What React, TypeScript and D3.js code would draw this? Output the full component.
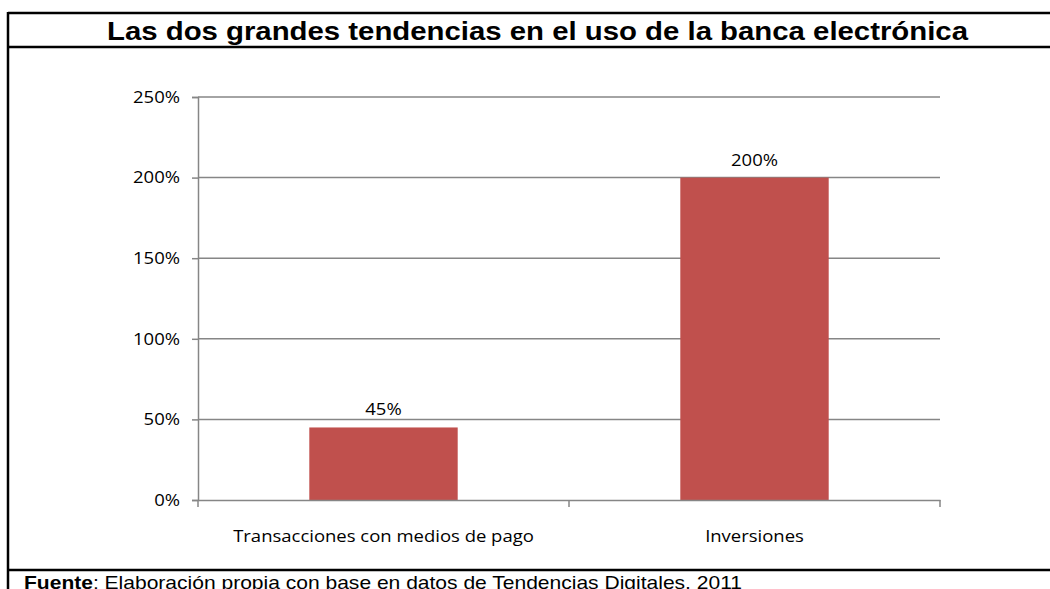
import React, { useEffect, useRef } from "react";
import * as d3 from "d3";

const categories = ["Transacciones con medios de pago", "Inversiones"];
const values = [45, 200];
const valueLabels = ["45%", "200%"];
const yTicks = [0, 50, 100, 150, 200, 250];
const title = "Las dos grandes tendencias en el uso de la banca electrónica";
const sourceBold = "Fuente";
const sourceText = ": Elaboración propia con base en datos de Tendencias Digitales, 2011";

export default function App() {
  const ref = useRef<SVGSVGElement>(null);

  useEffect(() => {
    const svg = d3.select(ref.current);
    svg.selectAll("*").remove();

    const W = 1050, H = 589;
    const left = 198, right = 940, top = 97, bottom = 500;
    const stretch = 1.12;
    const widen = (sel: any) => sel.each(function (this: SVGTextElement) {
      const w = this.getComputedTextLength();
      d3.select(this).attr("textLength", w * stretch).attr("lengthAdjust", "spacingAndGlyphs");
    });

    svg.append("rect").attr("width", W).attr("height", H).attr("fill", "#fff");

    // frame
    const frame = svg.append("g").attr("stroke", "#000").attr("stroke-width", 2.5).attr("fill", "none");
    frame.append("line").attr("x1", 8).attr("x2", W + 10).attr("y1", 13).attr("y2", 13);
    frame.append("line").attr("x1", 8).attr("x2", W + 10).attr("y1", 47).attr("y2", 47);
    frame.append("line").attr("x1", 8).attr("x2", W + 10).attr("y1", 570).attr("y2", 570);
    frame.append("line").attr("x1", 8).attr("x2", 8).attr("y1", 12).attr("y2", H + 5);

    svg.append("text")
      .attr("x", 537.5).attr("y", 40)
      .attr("text-anchor", "middle")
      .attr("font-family", "'Liberation Sans', Arial, sans-serif")
      .attr("font-weight", "bold")
      .attr("font-size", 26.5)
      .attr("fill", "#000")
      .attr("textLength", 861).attr("lengthAdjust", "spacingAndGlyphs")
      .text(title);

    const src = svg.append("text")
      .attr("x", 24).attr("y", 589)
      .attr("font-family", "'Liberation Sans', Arial, sans-serif")
      .attr("font-size", 18.5)
      .attr("fill", "#000")
      .attr("textLength", 718).attr("lengthAdjust", "spacingAndGlyphs");
    src.append("tspan").attr("font-weight", "bold").text(sourceBold);
    src.append("tspan").text(sourceText);

    const x = d3.scaleBand<string>().domain(categories).range([left, right]).paddingInner(0.6).paddingOuter(0.3);
    const xb = d3.scaleBand<string>().domain(categories).range([left, right]);
    const y = d3.scaleLinear().domain([0, 250]).range([bottom, top]);

    const font = "'Open Sans', 'Noto Sans', sans-serif";
    const fs = 16.5;
    const grid = "#868686";

    // gridlines
    svg.append("g").selectAll("line").data(yTicks.filter(t => t > 0)).join("line")
      .attr("x1", left).attr("x2", right)
      .attr("y1", d => y(d)).attr("y2", d => y(d))
      .attr("stroke", grid).attr("stroke-width", 1.5);

    // y axis
    const yAxis = d3.axisLeft(y).tickValues(yTicks).tickSize(6).tickPadding(12).tickFormat(d => `${d}%`);
    const ya = svg.append("g").attr("transform", `translate(${left},0)`).call(yAxis);
    ya.select(".domain").attr("stroke", grid).attr("stroke-width", 1.5);
    ya.selectAll(".tick line").attr("stroke", grid).attr("stroke-width", 1.5);
    ya.selectAll(".tick text").attr("font-family", font).attr("font-size", fs).attr("fill", "#000");
    widen(ya.selectAll(".tick text"));

    // bars
    svg.append("g").selectAll("rect").data(values).join("rect")
      .attr("x", (d, i) => x(categories[i])!)
      .attr("width", x.bandwidth())
      .attr("y", d => y(d))
      .attr("height", d => bottom - y(d))
      .attr("fill", "#C0504D");

    // x axis
    const xAxis = d3.axisBottom(xb).tickSize(0).tickPadding(30);
    const xa = svg.append("g").attr("transform", `translate(0,${bottom})`).call(xAxis);
    xa.select(".domain").attr("stroke", grid).attr("stroke-width", 1.5);
    xa.selectAll(".tick text").attr("font-family", font).attr("font-size", fs).attr("fill", "#000");
    widen(xa.selectAll(".tick text"));
    const bounds = [left, ...categories.map(c => xb(c)! + xb.bandwidth())];
    svg.append("g").selectAll("line").data(bounds).join("line")
      .attr("x1", d => d).attr("x2", d => d)
      .attr("y1", bottom).attr("y2", bottom + 7)
      .attr("stroke", grid).attr("stroke-width", 1.5);

    // value labels
    const vl = svg.append("g").selectAll("text").data(values).join("text")
      .attr("x", (d, i) => x(categories[i])! + x.bandwidth() / 2)
      .attr("y", d => y(d) - 12)
      .attr("text-anchor", "middle")
      .attr("font-family", font).attr("font-size", fs).attr("fill", "#000")
      .text((d, i) => valueLabels[i]);
    widen(vl);
  }, []);

  return (
    <svg ref={ref} width={1050} height={589}
      style={{ position: "absolute", left: 0, top: 0, display: "block" }} />
  );
}
